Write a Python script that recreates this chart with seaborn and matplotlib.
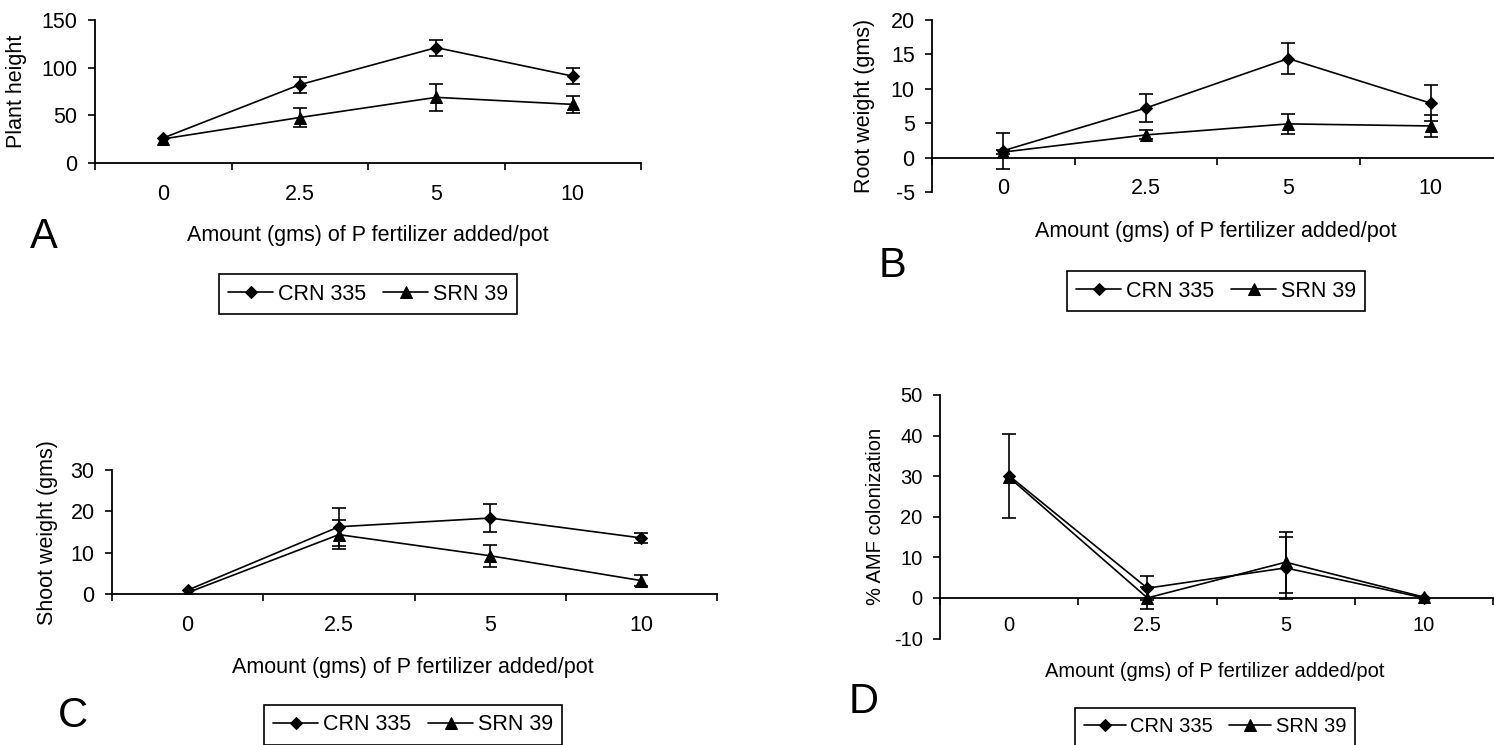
import numpy as np
import pandas as pd
import matplotlib
matplotlib.use("Agg")
import matplotlib.pyplot as plt
import seaborn as sns

# --- data ---
doses = ["0", "2.5", "5", "10"]
varieties = ["CRN 335", "SRN 39"]

# A: plant height
height_crn = [26, 82, 121, 91]
height_crn_err = [0, 8.3, 8.5, 8.5]
height_srn = [25, 47.5, 68.7, 61.3]
height_srn_err = [0, 9.5, 14, 9.3]

# B: root weight (gms)
root_crn = [1.0, 7.2, 14.4, 7.9]
root_crn_err = [2.6, 2.05, 2.2, 2.6]
root_srn = [0.8, 3.3, 4.9, 4.6]
root_srn_err = [0.3, 0.65, 1.5, 1.55]

# C: shoot weight (gms)
shoot_crn = [1.0, 16.3, 18.4, 13.6]
shoot_crn_err = [0, 4.6, 3.4, 1.1]
shoot_srn = [0.4, 14.4, 9.3, 3.3]
shoot_srn_err = [0, 3.5, 2.6, 1.3]

# D: % AMF colonization
amf_crn = [30.1, 2.4, 7.4, 0]
amf_crn_err = [10.4, 3.0, 7.6, 0]
amf_srn = [29.7, 0, 8.8, 0.2]
amf_srn_err = [0, 2.7, 7.5, 0]


def long_table(panel, crn, crn_err, srn, srn_err):
    rows = []
    for var, vals, errs in [(varieties[0], crn, crn_err), (varieties[1], srn, srn_err)]:
        for i, (v, e) in enumerate(zip(vals, errs)):
            rows.append({"panel": panel, "variety": var, "pos": i, "value": v, "err": e})
    return rows


data = pd.DataFrame(
    long_table("A", height_crn, height_crn_err, height_srn, height_srn_err)
    + long_table("B", root_crn, root_crn_err, root_srn, root_srn_err)
    + long_table("C", shoot_crn, shoot_crn_err, shoot_srn, shoot_srn_err)
    + long_table("D", amf_crn, amf_crn_err, amf_srn, amf_srn_err)
)

W, H = 1494, 745
sns.set_style("white")
plt.rcParams["font.family"] = ["Liberation Sans", "DejaVu Sans"]
plt.rcParams["text.color"] = "black"
plt.rcParams["axes.labelcolor"] = "black"
plt.rcParams["axes.unicode_minus"] = False

fig = plt.figure(figsize=(W / 100, H / 100), dpi=100)

XLABEL = "Amount (gms) of P fertilizer added/pot"
STYLE = {"CRN 335": ("D", 6.3), "SRN 39": ("^", 9.0)}


def px_rect(x0, x1, ytop, ybot):
    return [x0 / W, 1 - ybot / H, (x1 - x0) / W, (ybot - ytop) / H]


def draw_panel(panel, rect, ylabel, ylim, yticks, fs, ylab_x, xlab_xy, xpad,
               letter_xy, legend_xy):
    ax = fig.add_axes(rect)
    sub = data[data["panel"] == panel]
    for var in varieties:
        d = sub[sub["variety"] == var]
        mk, ms = STYLE[var]
        sns.lineplot(data=d, x="pos", y="value", marker=mk, markersize=ms,
                     color="black", markeredgecolor="black", linewidth=1.2,
                     errorbar=None, label=var, legend=False, ax=ax)
        m = d["err"] > 0
        ax.errorbar(d["pos"][m], d["value"][m], yerr=d["err"][m], fmt="none",
                    ecolor="black", elinewidth=1.2, capsize=5, capthick=1.2)

    ax.set_xlim(-0.5, 3.5)
    ax.set_ylim(*ylim)
    ax.set_yticks(yticks)
    ax.set_xticks(range(len(doses)))
    ax.set_xticklabels(doses)
    ax.set_xticks(np.arange(-0.5, len(doses), 1.0), minor=True)
    for s in ["top", "right"]:
        ax.spines[s].set_visible(False)
    for s in ["left", "bottom"]:
        ax.spines[s].set_color("black")
        ax.spines[s].set_linewidth(1.3)
    ax.spines["bottom"].set_position(("data", 0))

    ax.tick_params(axis="x", which="major", length=0, pad=xpad, labelsize=fs,
                   colors="black")
    ax.tick_params(axis="x", which="minor", bottom=True, length=5, width=1.2,
                   direction="out", color="black")
    ax.tick_params(axis="y", which="major", left=True, length=5, width=1.2,
                   direction="out", pad=7.5, labelsize=fs, colors="black")

    ax.set_ylabel(ylabel, fontsize=fs, va="center")
    ax.yaxis.set_label_coords(ylab_x, 0.5)
    ax.set_xlabel(XLABEL, fontsize=fs, va="center")
    ax.xaxis.set_label_coords(*xlab_xy)
    ax.grid(False)

    fig.text(letter_xy[0] / W, 1 - letter_xy[1] / H, panel, fontsize=30,
             ha="center", va="baseline")

    handles, labels = ax.get_legend_handles_labels()
    leg = ax.legend(handles, labels, ncol=2, loc="center",
                    bbox_to_anchor=(legend_xy[0] / W, 1 - legend_xy[1] / H),
                    bbox_transform=fig.transFigure, frameon=True, fancybox=False,
                    edgecolor="black", framealpha=1, fontsize=fs,
                    handlelength=2.1, handletextpad=0.2, columnspacing=0.8,
                    borderpad=0.45)
    leg.get_frame().set_linewidth(1.2)
    return ax


draw_panel("A", px_rect(95, 641, 20, 162.7), "Plant height", (0, 150),
           [0, 50, 100, 150], 15.5, -0.143, (0.5, -0.507), 15.0,
           (44, 248), (368, 294))
draw_panel("B", px_rect(932, 1502, 20, 192), "Root weight (gms)", (-5, 20),
           [-5, 0, 5, 10, 15, 20], 15.5, -0.119, (0.498, -0.231), 15.0,
           (892, 277), (1216, 291))
draw_panel("C", px_rect(112, 717, 470, 594.3), "Shoot weight (gms)", (0, 30),
           [0, 10, 20, 30], 15.5, -0.107, (0.4975, -0.585), 15.0,
           (73, 727), (413, 725))
draw_panel("D", px_rect(940, 1493, 395, 638.5), "% AMF colonization", (-10, 50),
           [-10, 0, 10, 20, 30, 40, 50], 14.5, -0.116, (0.497, -0.136), 12.8,
           (864, 713), (1215, 727))

fig.savefig("out.png", dpi=100)
